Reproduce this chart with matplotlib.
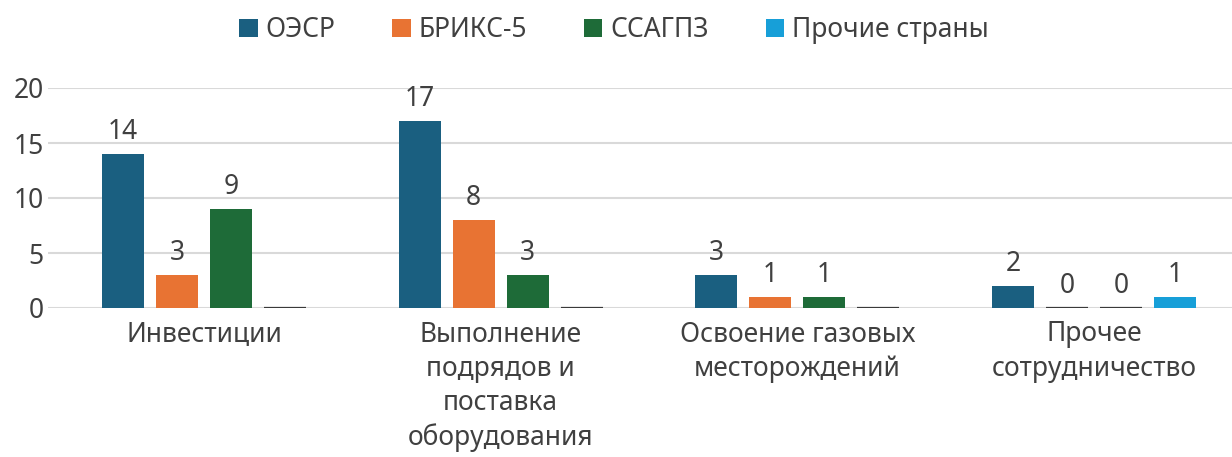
import matplotlib.pyplot as plt
import numpy as np

plt.rcParams['font.family'] = ['Noto Sans', 'DejaVu Sans']

categories = ["Инвестиции", "Выполнение\nподрядов и\nпоставка\nоборудования",
              "Освоение газовых\nместорождений", "Прочее\nсотрудничество"]
series = ["ОЭСР", "БРИКС-5", "ССАГПЗ", "Прочие страны"]
oecd = [14, 17, 3, 2]
brics = [3, 8, 1, 0]
gcc = [9, 3, 1, 0]
other = [0, 0, 0, 1]
# which values carry a number label (empty cells in the source show no label)
show_label = [[True, True, True, True],
              [True, True, True, True],
              [True, True, True, True],
              [False, False, False, True]]
colors = ["#1a5f80", "#e87333", "#1e6b38", "#179fd8"]
txt = "#404040"
fs = 19

fig = plt.figure(figsize=(12.32, 4.57), dpi=100)
ax = fig.add_axes([48/1232, 149/457, 1 - 48/1232, 220/457])

x = np.arange(len(categories))
w = 0.1416
step = 0.182
vals = [oecd, brics, gcc, other]
for i, (name, v, c) in enumerate(zip(series, vals, colors)):
    pos = x + (i - 1.5) * step
    bars = ax.bar(pos, v, w, color=c, label=name, zorder=3)
    for j, b in enumerate(bars):
        if v[j] == 0:
            ax.plot([b.get_x(), b.get_x() + w], [0, 0], color="#3a3a3a", lw=1.6, zorder=4,
                    solid_capstyle="butt")
        if show_label[i][j]:
            ax.text(b.get_x() + w/2, v[j] + 0.7, str(v[j]), ha="center", va="bottom",
                    fontsize=fs, color=txt)

ax.set_ylim(0, 20)
ax.set_xlim(-0.526, 3.465)
ax.set_yticks([0, 5, 10, 15, 20])
ax.yaxis.grid(True, color="#d9d9d9", lw=1.5, zorder=0)
ax.set_xticks(x)
ax.set_xticklabels(categories, fontsize=fs, color=txt, linespacing=1.3, va="top")
ax.tick_params(axis="y", length=0, pad=3, labelsize=fs, labelcolor=txt)
ax.tick_params(axis="x", length=0, pad=9)
for s in ax.spines.values():
    s.set_visible(False)

leg = ax.legend(loc="center", bbox_to_anchor=(566/1184, 1.0 + 58/220), ncol=4, frameon=False,
                fontsize=fs, handlelength=0.7, handleheight=0.7, handletextpad=0.3,
                columnspacing=2.15, labelcolor=txt)

fig.savefig("out.png", dpi=100)
